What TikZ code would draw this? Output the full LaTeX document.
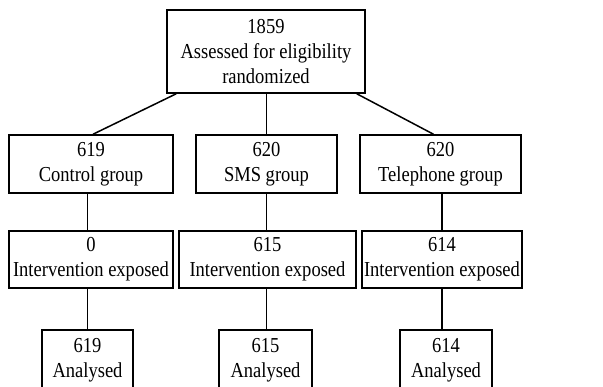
\documentclass[tikz,border=0pt]{standalone}
\usepackage{fontspec}
\setmainfont[FakeStretch=0.87]{Liberation Serif}
\usetikzlibrary{positioning}

\begin{document}
\begin{tikzpicture}[x=1pt,y=1pt,
  box/.style={draw, line width=1.5pt, align=center, inner sep=0pt,
    minimum height=57pt, font=\fontsize{21.3}{25}\selectfont},
  link/.style={line width=1.5pt},
]
\useasboundingbox (0,0) rectangle (603,-387);

% enrolment
\node[box, minimum width=198pt, minimum height=83pt] (assessed) at (266,-51.5) {1859\\Assessed for eligibility\\randomized};

% allocation
\node[box, minimum width=164pt, minimum height=58pt] (control) at (91,-164) {619\\Control group};
\node[box, minimum width=141pt, minimum height=58pt] (sms) at (266.5,-164) {620\\SMS group};
\node[box, minimum width=161pt, minimum height=58pt] (phone) at (440.5,-164) {620\\Telephone group};

% exposure
\node[box, minimum width=164pt] (controlexp) at (91,-259.5) {0\\Intervention exposed};
\node[box, minimum width=177pt] (smsexp) at (267.5,-259.5) {615\\Intervention exposed};
\node[box, minimum width=160pt] (phoneexp) at (442,-259.5) {614\\Intervention exposed};

% analysis
\node[box, minimum width=91pt, minimum height=60pt] (controlana) at (87.5,-360) {619\\Analysed};
\node[box, minimum width=93pt, minimum height=60pt] (smsana) at (265.5,-360) {615\\Analysed};
\node[box, minimum width=92pt, minimum height=60pt] (phoneana) at (446,-360) {614\\Analysed};

\draw[link] ([xshift=10pt]assessed.south west) -- ([xshift=2pt]control.north);
\draw[link] (assessed.south -| sms.north) -- (sms.north);
\draw[link] ([xshift=-9pt]assessed.south east) -- ([xshift=-7pt]phone.north);

\draw[link] (control.south -| controlana.north) -- (controlexp.north -| controlana.north);
\draw[link] (sms.south) -- (smsexp.north -| sms.south);
\draw[link] (phone.south -| phoneexp.north) -- (phoneexp.north);

\draw[link] (controlexp.south -| controlana.north) -- (controlana.north);
\draw[link] (smsexp.south -| sms.south) -- (smsana.north -| sms.south);
\draw[link] (phoneexp.south) -- (phoneana.north -| phoneexp.south);
\end{tikzpicture}
\end{document}
